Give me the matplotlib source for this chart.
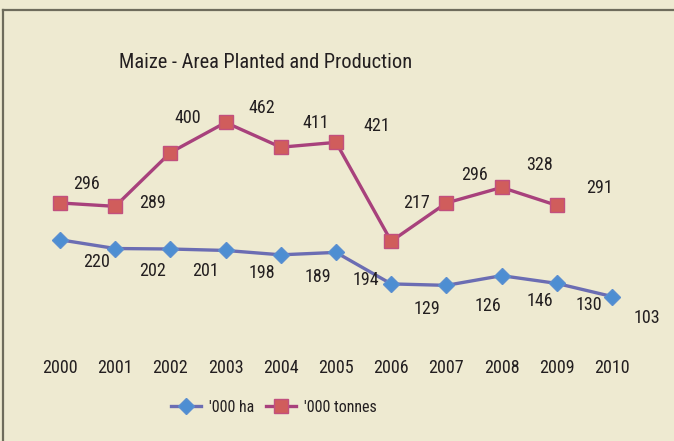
#Libraries
import matplotlib
matplotlib.use("Agg")
import matplotlib.pyplot as plt
from matplotlib.lines import Line2D
from matplotlib.transforms import blended_transform_factory

# Data
years = ["2000", "2001", "2002", "2003", "2004", "2005", "2006", "2007", "2008", "2009", "2010"]
area_ha = [220, 202, 201, 198, 189, 194, 129, 126, 146, 130, 103]
production_t = [296, 289, 400, 462, 411, 421, 217, 296, 328, 291]

# Label offsets in pixels (dx, dy-down), Excel puts them a bit everywhere
ha_offsets = [(37, 22), (37, 22), (35, 22), (36, 23), (37, 22), (30, 28),
              (36, 25), (42, 21), (38, 25), (32, 22), (35, 21)]
t_offsets = [(26, -19), (37, -3), (17, -35), (36, -14), (35, -24), (41, -16),
             (25, -38), (28, -28), (38, -22), (43, -17)]

bg = "#EEEAD1"
txt = "#231F20"
plt.rcParams['font.family'] = ['Liberation Sans Narrow', 'Arial Narrow', 'Roboto Condensed',
                               'Archivo Narrow', 'Liberation Sans', 'DejaVu Sans']

fig = plt.figure(figsize=(6.74, 4.41), dpi=100, facecolor=bg)
ax = fig.add_axes([0, 0, 1, 1])
ax.set_facecolor(bg)
ax.set_xlim(-1.087, 11.123)
ax.set_ylim(-195.1, 714.7)
ax.axis("off")

x_ha = list(range(len(area_ha)))
x_t = list(range(len(production_t)))

l1, = ax.plot(x_ha, area_ha, color="#6B6DB3", lw=2.4, marker="D", ms=8,
              mfc="#4D8ED2", mec="#5A8FD0", mew=1, label="'000 ha", zorder=3)
l2, = ax.plot(x_t, production_t, color="#A8417C", lw=2.4, marker="s", ms=10,
              mfc="#D05D5C", mec="#C2507E", mew=1, label="'000 tonnes", zorder=3)

# Data labels
for x, v, (dx, dy) in zip(x_ha, area_ha, ha_offsets):
    ax.annotate(str(v), (x, v), xytext=(dx, -dy), textcoords="offset pixels",
                ha="center", va="center", fontsize=13, color=txt)
for x, v, (dx, dy) in zip(x_t, production_t, t_offsets):
    ax.annotate(str(v), (x, v), xytext=(dx, -dy), textcoords="offset pixels",
                ha="center", va="center", fontsize=13, color=txt)

# Category labels
trans = blended_transform_factory(ax.transData, fig.transFigure)
for i, y in enumerate(years):
    ax.text(i, 1 - 368 / 441, y, transform=trans, ha="center", va="center",
            fontsize=13, color=txt)

# Title
fig.text(266 / 674, 1 - 63 / 441, "Maize - Area Planted and Production",
         ha="center", va="center", fontsize=14.7, color=txt)

# Legend
fig.legend(handles=[l1, l2], loc="center", bbox_to_anchor=(274 / 674, 1 - 407 / 441),
           ncol=2, frameon=False, fontsize=11.5, handlelength=1.9, columnspacing=0.7,
           handletextpad=0.5, labelcolor=txt)

# Chart border
fig.add_artist(Line2D([3 / 674, 1], [1 - 10 / 441, 1 - 10 / 441], color="#6E6C5C", lw=1.6,
                      transform=fig.transFigure))
fig.add_artist(Line2D([3 / 674, 3 / 674], [0, 1 - 10 / 441], color="#6E6C5C", lw=1.6,
                      transform=fig.transFigure))

fig.savefig("out.png", dpi=100, facecolor=bg)
